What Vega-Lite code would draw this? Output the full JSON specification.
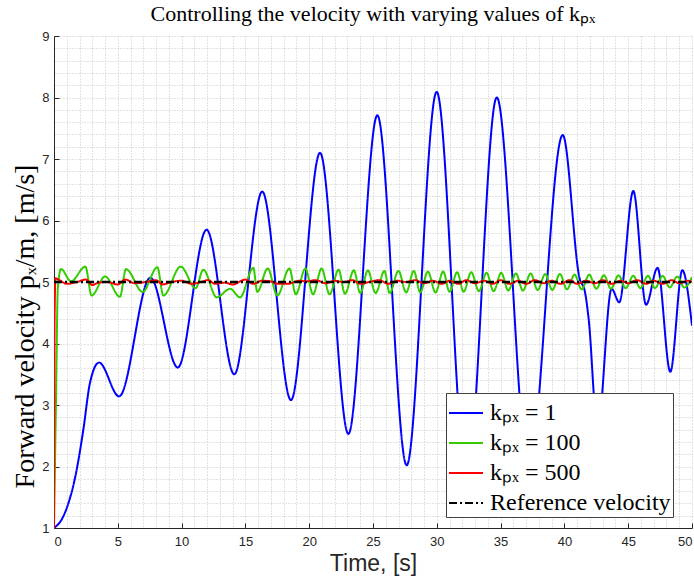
{
  "$schema": "https://vega.github.io/schema/vega-lite/v6.json",
  "width": 638,
  "height": 492,
  "autosize": "none",
  "padding": {"left": 54, "top": 36, "right": 2, "bottom": 52},
  "background": "white",
  "title": {"text": "Controlling the velocity with varying values of kₚₓ", "font": "Liberation Serif", "fontSize": 22, "fontWeight": "normal", "color": "black", "anchor": "middle", "offset": 4},
  "config": {
    "view": {"stroke": null},
    "legend": {"orient": "none", "legendX": 392, "legendY": 357, "padding": 2, "fillColor": "white", "strokeColor": "#404040", "strokeWidth": 1, "labelFont": "Liberation Serif", "labelFontSize": 24, "labelColor": "black", "symbolType": "stroke", "symbolSize": 1156, "symbolStrokeWidth": 2, "rowPadding": -10, "labelOffset": 6, "title": null, "labelLimit": 400}
  },
  "datasets": {
    "blue": [
      {"t": 0, "v": 1.0}, {"t": 0.73, "v": 1.19}, {"t": 1.78, "v": 1.95}, {"t": 2.3, "v": 2.6}, {"t": 2.82, "v": 3.36}, {"t": 3.53, "v": 3.69},
      {"t": 5.1, "v": 3.14}, {"t": 7.55, "v": 5.07}, {"t": 9.7, "v": 3.61}, {"t": 11.96, "v": 5.85}, {"t": 14.13, "v": 3.5},
      {"t": 16.32, "v": 6.47}, {"t": 18.57, "v": 3.08}, {"t": 20.85, "v": 7.1}, {"t": 23.07, "v": 2.53}, {"t": 25.34, "v": 7.71},
      {"t": 27.64, "v": 2.02}, {"t": 29.99, "v": 8.09}, {"t": 32.35, "v": 1.75}, {"t": 34.7, "v": 8.0}, {"t": 37.2, "v": 1.95},
      {"t": 39.87, "v": 7.39}, {"t": 41.2, "v": 5.05}, {"t": 41.6, "v": 4.85}, {"t": 41.9, "v": 4.4}, {"t": 42.6, "v": 2.6},
      {"t": 43.7, "v": 4.89}, {"t": 44.3, "v": 4.67}, {"t": 45.4, "v": 6.48}, {"t": 46.4, "v": 4.63}, {"t": 47.3, "v": 5.23},
      {"t": 48.3, "v": 3.54}, {"t": 49.24, "v": 5.19}, {"t": 50, "v": 4.29}
    ],
    "green": [
      {"t": 0, "v": 1.0}, {"t": 0.15, "v": 3.0}, {"t": 0.3, "v": 4.9}, {"t": 0.55, "v": 5.21}, {"t": 1.33, "v": 5.01}, {"t": 2.46, "v": 5.25},
      {"t": 2.95, "v": 4.78}, {"t": 4.0, "v": 5.09}, {"t": 5.17, "v": 4.76}, {"t": 5.64, "v": 5.21}, {"t": 6.95, "v": 4.84}, {"t": 8.1, "v": 5.24},
      {"t": 8.57, "v": 4.78}, {"t": 9.93, "v": 5.25}, {"t": 11.1, "v": 4.9}, {"t": 11.7, "v": 5.2}, {"t": 12.75, "v": 4.75}, {"t": 13.8, "v": 4.89},
      {"t": 14.58, "v": 4.75}, {"t": 15.62, "v": 5.23}, {"t": 15.93, "v": 4.84}, {"t": 16.75, "v": 5.22}, {"t": 17.5, "v": 4.78}, {"t": 18.45, "v": 5.22},
      {"t": 18.95, "v": 4.8}, {"t": 19.7, "v": 5.22}, {"t": 20.3, "v": 4.8}, {"t": 20.97, "v": 5.22}, {"t": 21.6, "v": 4.8}, {"t": 22.3, "v": 5.2},
      {"t": 22.8, "v": 4.81}, {"t": 23.5, "v": 5.19}, {"t": 24.0, "v": 4.82}, {"t": 24.6, "v": 5.19}, {"t": 25.2, "v": 4.82}, {"t": 25.9, "v": 5.18},
      {"t": 26.3, "v": 4.82}, {"t": 27.0, "v": 5.18}, {"t": 27.6, "v": 4.83}, {"t": 28.2, "v": 5.18}, {"t": 28.7, "v": 4.83}, {"t": 29.3, "v": 5.17},
      {"t": 29.9, "v": 4.83}, {"t": 30.5, "v": 5.17}, {"t": 31.0, "v": 4.84}, {"t": 31.6, "v": 5.16}, {"t": 32.1, "v": 4.84}, {"t": 32.7, "v": 5.16},
      {"t": 33.3, "v": 4.85}, {"t": 33.9, "v": 5.15}, {"t": 34.45, "v": 4.85}, {"t": 35.05, "v": 5.15}, {"t": 35.6, "v": 4.86}, {"t": 36.2, "v": 5.14},
      {"t": 36.75, "v": 4.86}, {"t": 37.35, "v": 5.14}, {"t": 37.9, "v": 4.87}, {"t": 38.5, "v": 5.13}, {"t": 39.05, "v": 4.87}, {"t": 39.65, "v": 5.13},
      {"t": 40.2, "v": 4.88}, {"t": 40.8, "v": 5.12}, {"t": 41.35, "v": 4.88}, {"t": 41.95, "v": 5.12}, {"t": 42.5, "v": 4.89}, {"t": 43.1, "v": 5.11},
      {"t": 43.65, "v": 4.89}, {"t": 44.25, "v": 5.11}, {"t": 44.8, "v": 4.9}, {"t": 45.4, "v": 5.1}, {"t": 45.95, "v": 4.9}, {"t": 46.55, "v": 5.1},
      {"t": 47.1, "v": 4.9}, {"t": 47.7, "v": 5.1}, {"t": 48.25, "v": 4.91}, {"t": 48.85, "v": 5.09}, {"t": 49.4, "v": 4.91}, {"t": 50, "v": 5.08}
    ],
    "red": [
      {"t": 0, "v": 1.0}, {"t": 0.05, "v": 4.5}, {"t": 0.12, "v": 5.06}, {"t": 0.5, "v": 5.02}, {"t": 1.0, "v": 4.97}, {"t": 1.8, "v": 5.0},
      {"t": 2.5, "v": 5.04}, {"t": 3.0, "v": 4.95}, {"t": 3.5, "v": 4.99}, {"t": 4.2, "v": 5.0}, {"t": 5.0, "v": 4.96}, {"t": 5.6, "v": 5.04},
      {"t": 6.3, "v": 4.98}, {"t": 7.2, "v": 5.0}, {"t": 8.0, "v": 5.03}, {"t": 8.5, "v": 4.96}, {"t": 9.2, "v": 5.0}, {"t": 10.0, "v": 5.02},
      {"t": 10.8, "v": 4.97}, {"t": 11.5, "v": 5.0}, {"t": 12.1, "v": 5.03}, {"t": 12.6, "v": 4.97}, {"t": 13.4, "v": 4.99}, {"t": 14.0, "v": 4.96},
      {"t": 15.0, "v": 5.04}, {"t": 15.6, "v": 4.97}, {"t": 16.3, "v": 5.02}, {"t": 17.0, "v": 5.01}, {"t": 17.5, "v": 4.97}, {"t": 18.3, "v": 4.97},
      {"t": 19.2, "v": 5.02}, {"t": 19.8, "v": 5.01}, {"t": 20.5, "v": 5.03}, {"t": 21.3, "v": 4.98}, {"t": 22.0, "v": 5.02}, {"t": 22.7, "v": 5.0},
      {"t": 23.4, "v": 5.03}, {"t": 24.0, "v": 4.97}, {"t": 24.7, "v": 5.0}, {"t": 25.5, "v": 5.03}, {"t": 26.2, "v": 4.97}, {"t": 26.9, "v": 5.02},
      {"t": 27.6, "v": 5.0}, {"t": 28.3, "v": 5.03}, {"t": 29.0, "v": 4.98}, {"t": 29.7, "v": 5.02}, {"t": 30.4, "v": 4.97}, {"t": 31.0, "v": 5.02},
      {"t": 31.7, "v": 4.97}, {"t": 32.3, "v": 5.03}, {"t": 33.0, "v": 4.98}, {"t": 33.7, "v": 5.02}, {"t": 34.4, "v": 4.97}, {"t": 35.0, "v": 5.03},
      {"t": 35.7, "v": 4.97}, {"t": 36.4, "v": 5.02}, {"t": 37.0, "v": 4.97}, {"t": 37.7, "v": 5.03}, {"t": 38.4, "v": 4.98}, {"t": 39.0, "v": 5.02},
      {"t": 39.7, "v": 4.97}, {"t": 40.4, "v": 5.03}, {"t": 41.0, "v": 4.97}, {"t": 41.7, "v": 5.02}, {"t": 42.4, "v": 4.98}, {"t": 43.0, "v": 5.03},
      {"t": 43.7, "v": 4.97}, {"t": 44.4, "v": 5.02}, {"t": 45.0, "v": 4.98}, {"t": 45.7, "v": 5.03}, {"t": 46.4, "v": 4.97}, {"t": 47.0, "v": 5.02},
      {"t": 47.7, "v": 4.97}, {"t": 48.4, "v": 5.03}, {"t": 49.0, "v": 4.98}, {"t": 49.7, "v": 5.02}, {"t": 50, "v": 5.0}
    ],
    "ref": [{"t": 0, "v": 5.0}, {"t": 50, "v": 5.0}]
  },
  "layer": [
    {
      "data": {"name": "blue"},
      "mark": {"type": "line", "interpolate": "monotone", "strokeWidth": 2, "clip": true},
      "encoding": {
        "x": {"field": "t", "type": "quantitative", "scale": {"domain": [0, 50], "nice": false, "zero": false},
          "axis": {"orient": "bottom", "values": [0,1,2,3,4,5,6,7,8,9,10,11,12,13,14,15,16,17,18,19,20,21,22,23,24,25,26,27,28,29,30,31,32,33,34,35,36,37,38,39,40,41,42,43,44,45,46,47,48,49,50], "grid": true, "gridDash": [1, 2], "gridColor": "#c4c4c4", "gridWidth": 1, "labels": false, "ticks": false, "domain": false, "title": null}},
        "y": {"field": "v", "type": "quantitative", "scale": {"domain": [1, 9], "nice": false, "zero": false},
          "axis": {"orient": "left", "values": [1,1.2,1.4,1.6,1.8,2,2.2,2.4,2.6,2.8,3,3.2,3.4,3.6,3.8,4,4.2,4.4,4.6,4.8,5,5.2,5.4,5.6,5.8,6,6.2,6.4,6.6,6.8,7,7.2,7.4,7.6,7.8,8,8.2,8.4,8.6,8.8,9], "grid": true, "gridDash": [1, 2], "gridColor": "#c4c4c4", "gridWidth": 1, "labels": false, "ticks": false, "domain": false, "title": null}},
        "color": {"datum": "kₚₓ = 1", "type": "nominal", "scale": {"domain": ["kₚₓ = 1", "kₚₓ = 100", "kₚₓ = 500", "Reference velocity"], "range": ["#0000ff", "#33cc00", "#ff0000", "#000000"]}},
        "strokeDash": {"datum": "kₚₓ = 1", "type": "nominal", "scale": {"domain": ["kₚₓ = 1", "kₚₓ = 100", "kₚₓ = 500", "Reference velocity"], "range": [[1, 0], [1, 0], [1, 0], [8, 3, 2, 3]]}}
      }
    },
    {
      "data": {"name": "green"},
      "mark": {"type": "line", "interpolate": "monotone", "strokeWidth": 2, "clip": true},
      "encoding": {
        "x": {"field": "t", "type": "quantitative",
          "axis": {"orient": "bottom", "values": [0,5,10,15,20,25,30,35,40,45,50], "grid": false, "domain": true, "domainColor": "#262626", "domainWidth": 1, "ticks": true, "tickColor": "#262626", "tickSize": -5, "labelPadding": 12, "labelFont": "Liberation Sans", "labelFontSize": 13, "labelColor": "#262626", "title": "Time, [s]", "titleFont": "Liberation Sans", "titleFontSize": 23, "titleFontWeight": "normal", "titleColor": "#262626", "titlePadding": 4}},
        "y": {"field": "v", "type": "quantitative",
          "axis": {"orient": "left", "values": [1,2,3,4,5,6,7,8,9], "grid": false, "domain": true, "domainColor": "#262626", "domainWidth": 1, "ticks": true, "tickColor": "#262626", "tickSize": -5, "labelPadding": 10, "labelFont": "Liberation Sans", "labelFontSize": 13, "labelColor": "#262626", "title": "Forward velocity pₓ/m, [m/s]", "titleFont": "Liberation Serif", "titleFontSize": 28, "titleFontWeight": "normal", "titleColor": "black", "titleX": -29, "titleY": 290, "titleAlign": "center", "titleBaseline": "middle", "titleAngle": -90}},
        "color": {"datum": "kₚₓ = 100", "type": "nominal"},
        "strokeDash": {"datum": "kₚₓ = 100", "type": "nominal"}
      }
    },
    {
      "data": {"name": "red"},
      "mark": {"type": "line", "interpolate": "monotone", "strokeWidth": 2, "clip": true},
      "encoding": {
        "x": {"field": "t", "type": "quantitative", "axis": null},
        "y": {"field": "v", "type": "quantitative", "axis": null},
        "color": {"datum": "kₚₓ = 500", "type": "nominal"},
        "strokeDash": {"datum": "kₚₓ = 500", "type": "nominal"}
      }
    },
    {
      "data": {"name": "ref"},
      "mark": {"type": "line", "strokeWidth": 2.5, "clip": true},
      "encoding": {
        "x": {"field": "t", "type": "quantitative", "axis": null},
        "y": {"field": "v", "type": "quantitative", "axis": null},
        "color": {"datum": "Reference velocity", "type": "nominal"},
        "strokeDash": {"datum": "Reference velocity", "type": "nominal"}
      }
    }
  ],
  "resolve": {"axis": {"x": "independent", "y": "independent"}}
}
